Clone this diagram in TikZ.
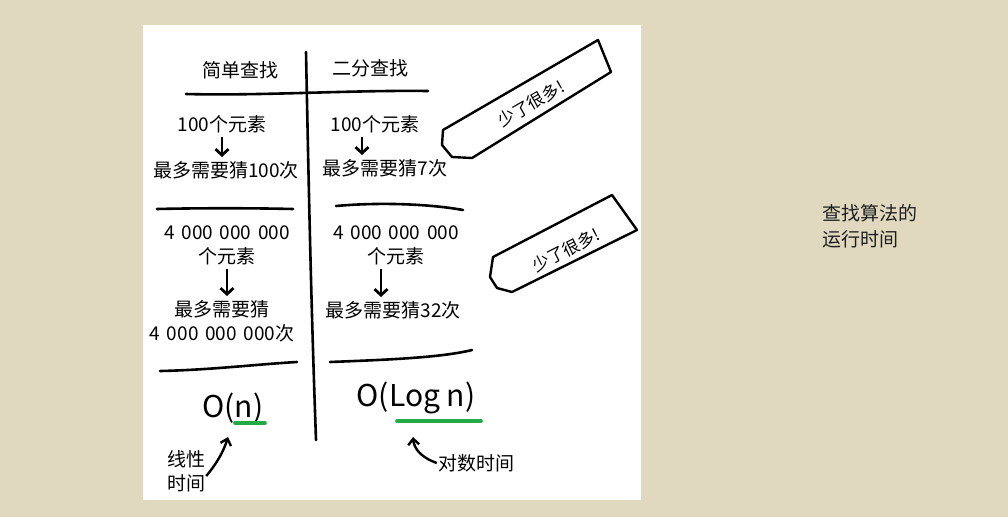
\documentclass[tikz,border=0pt]{standalone}
\usepackage{fontspec}
\usepackage{xcolor}
\usepackage{tikz}
\usetikzlibrary{arrows.meta, positioning}
\newfontfamily\hand{Noto Sans CJK SC}
\newfontfamily\cjk{Noto Sans CJK SC}
\definecolor{pagebeige}{RGB}{224, 217, 192}
\definecolor{markgreen}{RGB}{34, 170, 68}
\definecolor{titlegray}{RGB}{30, 30, 30}
\newcommand{\gap}{\hspace{0.35em}}

\begin{document}
\begin{tikzpicture}[x=1pt, y=-1pt,
    hw/.style={font=\hand\fontsize{19}{24}\selectfont, inner sep=1pt, align=center},
    bigo/.style={font=\hand\fontsize{30}{34}\selectfont, inner sep=1pt},
    rule/.style={line width=2.6pt, line cap=round},
    downarr/.style={-{Straight Barb[length=6pt, width=13pt]}, line width=2.8pt,
                    shorten <=3pt, shorten >=3pt},
    curvarr/.style={-{Straight Barb[length=6pt, width=11pt]}, line width=2.4pt},
    uline/.style={draw=markgreen, line width=3.6pt, line cap=round},
    tagbox/.style={draw, line width=2.4pt, fill=white, line join=round},
    tagtext/.style={font=\hand\fontsize{17}{18}\selectfont, inner sep=1pt}
]
    \useasboundingbox (0,0) rectangle (1008,517);
    \fill[pagebeige] (0,0) rectangle (1008,517);
    \fill[white] (143,25) rectangle (641,500);

    \node[hw] (simple) at (240,70) {简单查找};
    \node[hw] (binary) at (370,68) {二分查找};
    \draw[rule] (306,52) .. controls (309,200) and (311,300) .. (316,440);
    \draw[rule] (186,94) .. controls (260,96) and (350,90) .. (428,91);

    \node[hw] (simplen) at (222,124) {100个元素};
    \node[hw] (simpleg) at (226,170) {最多需要猜100次};
    \draw[downarr] (simplen) -- (simplen |- simpleg.north);
    \node[hw] (binaryn) at (375,124) {100个元素};
    \node[hw] (binaryg) at (385,168) {最多需要猜7次};
    \draw[downarr] ([xshift=-13pt]binaryn.south) -- ([xshift=-13pt]binaryn.south |- binaryg.north);

    \draw[rule] (157,209) .. controls (200,208) and (250,208) .. (293,209);
    \draw[rule] (336,206) .. controls (380,202) and (430,204) .. (463,210);

    \node[hw] (bigsimplen) at (227,245) {4\gap000\gap000\gap000\\个元素};
    \node[hw] (bigsimpleg) at (222,321) {最多需要猜\\4\gap000\gap000\gap000次};
    \draw[downarr] (bigsimplen) -- (bigsimplen |- bigsimpleg.north);
    \node[hw] (bigbinaryn) at (396,245) {4\gap000\gap000\gap000\\个元素};
    \node[hw] (bigbinaryg) at (393,310) {最多需要猜32次};
    \draw[downarr] ([xshift=-15pt]bigbinaryn.south) -- ([xshift=-15pt]bigbinaryn.south |- bigbinaryg.north);

    \draw[rule] (160,371) .. controls (210,370) and (260,364) .. (297,362);
    \draw[rule] (330,362) .. controls (380,360) and (440,358) .. (472,350);

    \node[bigo] (linear) at (233,408) {O(n)};
    \node[bigo] (logn) at (416,398) {O(Log n)};
    \draw[uline] (235,423) -- (265,423);
    \draw[uline] (397,421) -- (481,421);

    \coordinate (lintip) at (228,437);
    \coordinate (logtip) at (413,437);
    \node[hw] (lintext) at (186,471) {线性\\时间};
    \node[hw] (logtext) at (476,463) {对数时间};
    \draw[curvarr] ([yshift=-5pt]lintext.east) .. controls (218,462) and (224,450) .. (lintip);
    \draw[curvarr] (logtext.west) .. controls (420,457) and (414,448) .. (logtip);

    \draw[tagbox] (443,130) -- (598,40) -- (611,72) -- (472,158) -- (452,157) -- (442,145) -- cycle;
    \node[tagtext, rotate=30] (fewer) at (531,104) {少了很多!};
    \draw[tagbox] (493,257) -- (612,195) -- (637,230) -- (512,292) -- (497,288) -- (490,277) -- cycle;
    \node[tagtext, rotate=27] (fewermore) at (566,250) {少了很多!};

    \node[font=\cjk\fontsize{19}{26}\selectfont, text=titlegray, align=left,
          anchor=north west, inner sep=0pt] (title) at (822,204) {查找算法的\\运行时间};
\end{tikzpicture}
\end{document}
